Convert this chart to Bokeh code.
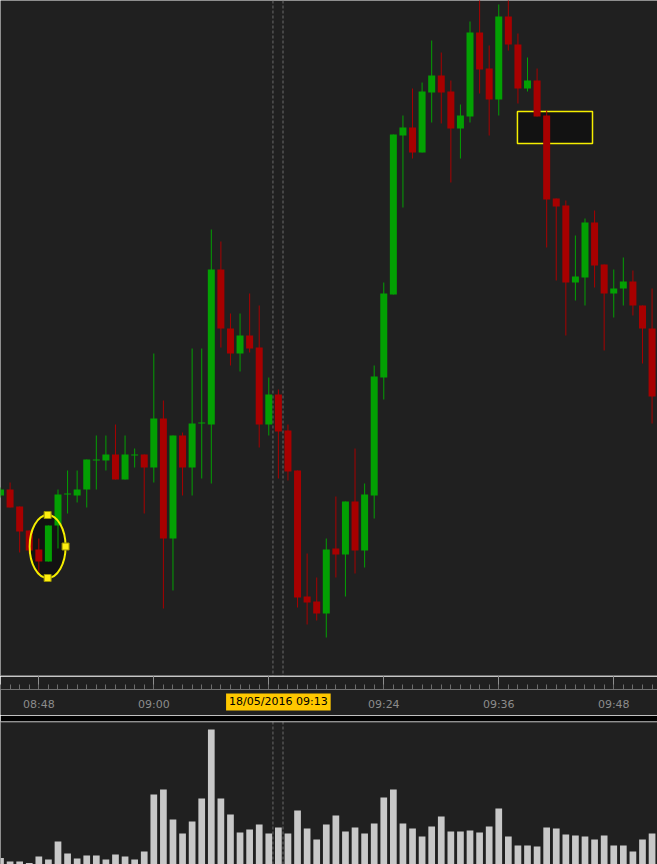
import pandas as pd
from bokeh.plotting import figure
from bokeh.layouts import column
from bokeh.models import (ColumnDataSource, Range1d, Span, Label, DatetimeAxis,
                          SingleIntervalTicker, DatetimeTickFormatter)
from bokeh.embed import file_html
from bokeh.resources import INLINE

# ---- one-minute bars, 18 May 2016 ----
SESSION_START = "2016-05-18 08:44"
BAR_COUNT = 69

OPEN = [2050.25, 2050.55, 2049.70, 2048.50, 2047.55, 2046.95, 2048.75, 2050.30, 2050.25, 2050.55,
        2052.00, 2052.00, 2052.30, 2051.05, 2052.25, 2052.30, 2051.65, 2054.10, 2048.10, 2053.25,
        2051.65, 2053.85, 2053.80, 2061.55, 2058.60, 2057.35, 2058.25, 2057.65, 2053.80, 2055.30,
        2053.50, 2051.50, 2045.20, 2044.95, 2044.35, 2047.60, 2047.30, 2049.95, 2047.50, 2050.25,
        2056.15, 2060.30, 2068.25, 2068.65, 2067.40, 2070.40, 2071.25, 2070.45, 2068.60, 2069.20,
        2073.40, 2071.60, 2070.05, 2074.20, 2072.80, 2070.60, 2071.00, 2069.25, 2065.10, 2064.75,
        2060.90, 2061.15, 2063.90, 2061.80, 2060.35, 2060.60, 2060.95, 2059.75, 2058.60]

HIGH = [2050.65, 2050.90, 2049.70, 2048.50, 2048.10, 2048.75, 2050.55, 2051.50, 2051.50, 2052.05,
        2053.25, 2053.25, 2053.80, 2053.25, 2052.60, 2052.30, 2057.35, 2055.00, 2053.25, 2053.40,
        2057.60, 2057.60, 2063.55, 2062.95, 2059.35, 2059.35, 2060.35, 2059.75, 2056.15, 2055.55,
        2053.80, 2051.50, 2047.35, 2046.15, 2048.10, 2050.20, 2049.95, 2052.60, 2050.85, 2056.75,
        2060.90, 2068.30, 2069.25, 2070.60, 2070.90, 2073.00, 2072.40, 2071.00, 2069.80, 2073.95,
        2075.30, 2072.75, 2074.80, 2075.20, 2073.35, 2072.15, 2071.60, 2069.50, 2065.10, 2065.00,
        2063.25, 2064.10, 2064.50, 2061.80, 2061.55, 2062.15, 2061.50, 2059.75, 2060.60]

LOW = [2050.15, 2049.65, 2047.40, 2047.35, 2046.35, 2046.95, 2047.60, 2049.35, 2049.90, 2049.65,
       2050.55, 2051.50, 2051.05, 2051.05, 2051.65, 2049.35, 2050.90, 2044.60, 2045.50, 2050.25,
       2050.25, 2051.10, 2050.85, 2057.65, 2056.75, 2056.45, 2057.40, 2052.65, 2053.25, 2051.10,
       2051.00, 2044.65, 2043.80, 2044.00, 2043.15, 2046.15, 2045.20, 2046.35, 2046.65, 2049.10,
       2055.05, 2060.30, 2064.65, 2067.10, 2067.40, 2068.90, 2068.85, 2065.90, 2067.10, 2068.90,
       2070.35, 2068.25, 2069.25, 2072.50, 2069.85, 2070.45, 2069.20, 2062.65, 2061.00, 2058.25,
       2060.00, 2059.75, 2060.65, 2057.50, 2059.15, 2059.75, 2059.25, 2056.85, 2053.85]

CLOSE = [2050.55, 2049.65, 2048.45, 2047.50, 2046.95, 2048.75, 2050.30, 2050.35, 2050.55, 2052.05,
         2052.05, 2052.30, 2051.05, 2052.30, 2052.30, 2051.65, 2054.10, 2048.10, 2053.25, 2051.65,
         2053.85, 2053.90, 2061.55, 2058.60, 2057.35, 2058.25, 2057.60, 2053.80, 2055.30, 2053.45,
         2051.45, 2045.15, 2044.90, 2044.35, 2047.55, 2047.30, 2049.95, 2047.50, 2050.30, 2056.20,
         2060.35, 2068.30, 2068.65, 2067.40, 2070.45, 2071.25, 2070.40, 2068.60, 2069.25, 2073.40,
         2071.55, 2070.05, 2074.20, 2072.80, 2070.60, 2071.00, 2069.20, 2065.05, 2064.70, 2060.90,
         2061.20, 2063.90, 2061.75, 2060.35, 2060.60, 2060.95, 2059.75, 2058.60, 2055.20]

VOLUME = [170, 100, 100, 70, 200, 140, 500, 260, 160, 220,
          220, 140, 240, 200, 140, 300, 1440, 1540, 940, 660,
          900, 1360, 2740, 1360, 1040, 680, 740, 840, 660, 780,
          660, 1120, 760, 540, 840, 1020, 700, 780, 660, 860,
          1380, 1540, 860, 760, 600, 800, 1000, 700, 700, 720,
          680, 800, 1160, 600, 420, 420, 400, 780, 760, 640,
          620, 600, 540, 620, 420, 420, 300, 540, 660]

# cursor position and its date/time tag on the time axis
CURSOR_TIME = "2016-05-18 09:13"
CURSOR_EDGES = ["2016-05-18 09:12:26", "2016-05-18 09:13:29"]
CURSOR_TEXT = "18/05/2016 09:13"

# user drawings: an ellipse and a rectangle
ELLIPSE_TIME = "2016-05-18 08:48:55"
ELLIPSE_PRICE = 2047.70
ELLIPSE_MINUTES = 3.75
ELLIPSE_HEIGHT = 3.15
BOX_START = "2016-05-18 09:37:57"
BOX_END = "2016-05-18 09:45:47"
BOX_TOP = 2069.45
BOX_BOTTOM = 2067.85

# ---- styling ----
BG = "#202020"
UP = "#03a003"
DOWN = "#a80000"
VOL_COLOR = "#c8c8c8"
DRAW_COLOR = "#f5ee00"
BODY_WIDTH_MS = 43_800
VOL_WIDTH_MS = 42_000
W = 657
PRICE_LO, PRICE_HI = 2041.2, 2075.0

times = pd.date_range(SESSION_START, periods=BAR_COUNT, freq="min")
colors = [UP if c >= o else DOWN for o, c in zip(OPEN, CLOSE)]
src = ColumnDataSource(dict(
    time=times, open=OPEN, high=HIGH, low=LOW, close=CLOSE, volume=VOLUME,
    top=[max(o, c) for o, c in zip(OPEN, CLOSE)],
    bottom=[min(o, c) for o, c in zip(OPEN, CLOSE)],
    color=colors,
))

t0 = pd.Timestamp(SESSION_START)
x_range = Range1d(t0, t0 + pd.Timedelta(seconds=4114))


def base_fig(height, y_range, border=BG, top=0, bottom=0):
    f = figure(width=W, height=height, x_range=x_range, y_range=y_range,
               x_axis_type="datetime", output_backend="svg", toolbar_location=None,
               x_axis_location=None, y_axis_location=None,
               min_border=0, min_border_top=top, min_border_bottom=bottom,
               background_fill_color=BG, border_fill_color=border,
               outline_line_color=None)
    f.xgrid.visible = False
    f.ygrid.visible = False
    return f


def cursor_lines(f):
    for t in CURSOR_EDGES:
        f.add_layout(Span(location=pd.Timestamp(t).to_pydatetime(), dimension="height",
                          line_color="#6a6a6a", line_width=1, line_dash="3 2",
                          level="underlay"))


# ---- price pane ----
price = base_fig(676, Range1d(PRICE_LO, PRICE_HI))
cursor_lines(price)

e_time = pd.Timestamp(ELLIPSE_TIME)
e_w = ELLIPSE_MINUTES * 60_000
price.quad(left=[pd.Timestamp(BOX_START)], right=[pd.Timestamp(BOX_END)],
           top=[BOX_TOP], bottom=[BOX_BOTTOM], fill_color="#121212",
           line_color=DRAW_COLOR, line_width=1.5)
price.ellipse(x=[e_time], y=[ELLIPSE_PRICE], width=[e_w], height=[ELLIPSE_HEIGHT],
              fill_color="#121212", line_color=None)

price.segment(x0="time", y0="high", x1="time", y1="low", color="color",
              line_width=1, source=src)
price.vbar(x="time", top="top", bottom="bottom", width=BODY_WIDTH_MS,
           fill_color="color", line_color=None, source=src)

price.ellipse(x=[e_time], y=[ELLIPSE_PRICE], width=[e_w], height=[ELLIPSE_HEIGHT],
              fill_color=None, line_color=DRAW_COLOR, line_width=2)
half_w = pd.Timedelta(milliseconds=e_w / 2)
price.scatter(x=[e_time, e_time, e_time + half_w],
              y=[ELLIPSE_PRICE + ELLIPSE_HEIGHT / 2, ELLIPSE_PRICE - ELLIPSE_HEIGHT / 2,
                 ELLIPSE_PRICE],
              marker="square", size=7, fill_color="#ffee10", line_color="#9a9400",
              line_width=1)
# upper edge of the time-axis strip
price.add_layout(Span(location=PRICE_LO + 0.025, dimension="width",
                      line_color="#bcbcbc", line_width=1))

# ---- time axis strip: ticks above, labels and cursor tag inside ----
axis_fig = base_fig(39, Range1d(0, 1), top=13)
xa = DatetimeAxis()
xa.ticker = SingleIntervalTicker(interval=12 * 60_000, num_minor_ticks=12)
xa.formatter = DatetimeTickFormatter(minutes="%H:%M", hourmin="%H:%M", hours="%H:%M",
                                     minsec="%H:%M", seconds="%H:%M", days="%H:%M",
                                     strip_leading_zeros=False)
xa.axis_line_color = "#707070"
xa.major_tick_in = 0
xa.major_tick_out = 16
xa.minor_tick_in = 0
xa.minor_tick_out = 5
xa.major_tick_line_color = "#8e8e8e"
xa.minor_tick_line_color = "#6c6c6c"
xa.major_label_text_color = "#8c8c8c"
xa.major_label_text_font = "DejaVu Sans"
xa.major_label_text_font_size = "11px"
xa.major_label_standoff = -37
axis_fig.add_layout(xa, "above")
axis_fig.add_layout(Label(x=pd.Timestamp(CURSOR_TIME).to_pydatetime(), y=0.52,
                          text=CURSOR_TEXT, text_align="center", text_baseline="middle",
                          text_font="DejaVu Sans", text_font_size="11px",
                          text_color="#000000", background_fill_color="#ffc800",
                          padding=(3, 2)))

# ---- volume pane ----
vol = base_fig(149, Range1d(40, 2900), border="#000000", top=6)
cursor_lines(vol)
vol.vbar(x="time", top="volume", bottom=0, width=VOL_WIDTH_MS, fill_color=VOL_COLOR,
         line_color=None, source=src)
vol.add_layout(Span(location=2900, dimension="width", line_color="#d4d4d4", line_width=1.5))

layout = column(price, axis_fig, vol, spacing=0)
open("out.html", "w").write(file_html(layout, INLINE))
